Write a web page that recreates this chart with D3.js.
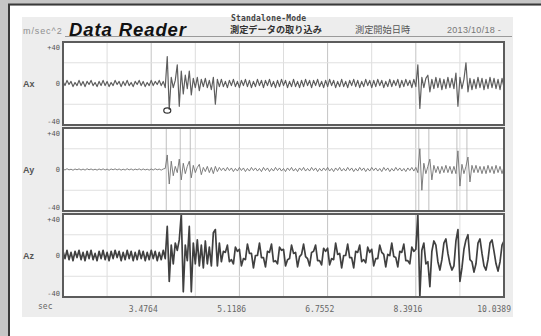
<!DOCTYPE html>
<html>
<head>
<meta charset="utf-8">
<script src="https://cdn.jsdelivr.net/npm/d3@7"></script>
<style>
  body { margin: 0; background: #c6c6c6; }
  svg { display: block; }
</style>
</head>
<body>
<svg id="chart" width="541" height="336"></svg>
<script>
// ---- data -------------------------------------------------------------
const channels = ["Ax", "Ay", "Az"];
const sampleStart = 1.838;     // s, time of first sample
const sampleStep = 0.03724;    // s, sample interval

const axValues = [
  2,-2,3,-1,2,-3,1,-2,3,-2,
  2,-3,2,-1,3,-2,1,-3,2,-2,
  3,-2,2,-3,1,-2,3,-1,2,-3,
  2,-2,3,-2,1,-3,2,-1,3,-2,
  2,-3,1,-2,3,-2,2,-1,3,-2,
  2,-4,26,-25,6,-4,3,18,-22,12,
  -10,8,-5,12,-11,5,-4,6,-7,4,
  -3,5,-4,3,-6,6,-20,4,-3,4,
  -3,2,-4,3,-2,4,-3,2,-4,3,
  -2,4,-3,3,-4,2,-3,4,-2,3,
  -4,3,-2,4,-3,2,-4,3,-3,4,
  -2,3,-4,2,-3,4,-3,2,-4,3,
  -3,4,-2,3,-4,3,-2,4,-3,2,
  -4,3,-3,4,-2,3,-4,2,-3,4,
  -3,2,-4,3,-2,4,-3,3,-4,2,
  -3,4,-2,3,-4,3,-3,4,-2,3,
  -4,2,-3,4,-3,3,-2,4,-4,3,
  -3,4,-2,3,-4,4,-3,18,-24,6,
  -4,5,8,-8,4,-5,6,-4,5,-6,
  4,-5,6,-4,5,-5,10,-22,6,-5,
  4,20,-8,5,-6,4,-5,6,-4,5,
  -6,4,-5,6,-4,5,-5,4,-6,5,
  -4
];

const ayValues = [
  0.5,-0.5,0.8,-0.4,0.3,-0.7,0.5,-0.3,0.6,-0.5,
  0.4,-0.6,0.7,-0.3,0.5,-0.5,0.3,-0.6,0.5,-0.4,
  0.6,-0.5,0.4,-0.7,0.5,-0.3,0.6,-0.4,0.5,-0.6,
  0.3,-0.5,0.7,-0.4,0.5,-0.6,0.4,-0.3,0.6,-0.5,
  0.5,-0.4,0.3,-0.6,0.5,-0.5,0.7,-0.3,0.4,-0.6,
  0.5,1,14,-14,8,-6,3,-3,10,-10,
  6,-4,3,8,-8,4,-3,2,5,-5,
  2,-2,3,-3,2,-4,3,-2,2,-1,
  1.5,-1.5,2,-1,1.5,-2,1,-1.5,2,-1,
  1.5,-2,1,-1.5,2,-1,1.5,-1.5,1,-2,
  2,-1,1.5,-2,1,-1.5,2,-1,1.5,-1.5,
  1,-2,1.5,-1,2,-1.5,1,-2,1.5,-1,
  2,-1.5,1,-1.5,2,-1,1.5,-2,1,-1.5,
  1.5,-1,2,-1.5,1,-2,1.5,-1,2,-1.5,
  1,-1.5,2,-1,1.5,-2,1,-1.5,2,-1,
  1.5,-2,1,-1.5,2,-1,1.5,-1.5,1,-2,
  2,-1,1.5,-2,1,-1.5,2,-1,1.5,-1.5,
  1,-2,1.5,-1,2,-1.5,2,-3,20,-20,
  6,-4,3,10,-10,4,-3,3,-4,3,
  -3,4,-3,3,-4,3,-4,18,-16,5,
  -4,3,12,-12,4,-3,4,-3,3,-4,
  3,-4,4,-3,3,-4,4,-3,3,-4,
  3
];

const azValues = [
  4,-3,5,-4,3,-5,4,-2,5,-4,
  3,-5,4,-3,5,-4,2,-5,4,-3,
  5,-4,3,-5,4,-3,5,-2,4,-5,
  3,-4,5,-3,4,-5,3,-4,5,-3,
  4,-5,3,-4,5,-3,4,-5,3,-4,
  5,-3,28,-25,10,-8,12,5,15,40,
  -35,10,-5,28,-35,12,-8,15,-10,10,
  -12,14,-8,8,-10,22,25,-10,12,-6,
  4,3,10,-6,-4,-8,8,4,6,-10,
  -3,-4,11,2,2,-12,0,0,12,-2,
  -2,-11,4,3,11,-6,-5,-8,8,5,
  6,-10,-4,-3,10,2,3,-11,-1,1,
  11,-1,-3,-10,3,4,10,-5,-5,-9,
  7,4,7,-9,-3,-4,12,1,2,-12,
  0,0,11,-2,-2,-12,4,3,10,-6,
  -4,-7,8,3,6,-10,-3,-3,10,3,
  1,-11,1,0,12,-1,-2,-11,4,3,
  11,-5,-5,-8,8,4,6,40,-40,5,
  12,-8,-6,-30,4,14,10,-6,-14,-4,
  12,16,2,-8,-14,-10,14,25,-25,-12,
  6,15,20,-4,-6,-16,-8,12,16,2,
  -10,-14,-4,12,15,4,-8,-15,-6,10,
  14
];

// trigger marks shown as thin vertical lines on the Ay trace (s)
const ayMarks = [3.756, 4.016, 4.202, 8.447, 8.634, 9.155, 9.341];
// detected peak on Ax
const peakTime = [3.775];
const peakValue = [-26];

const xTickValues = [3.4764, 5.1186, 6.7552, 8.3916, 10.0389];
const xTickLabels = ["3.4764", "5.1186", "6.7552", "8.3916", "10.0389"];
const yTickValues = [40, 0, -40];
const yTickLabels = ["+40", "0", "-40"];
const xDomain = [1.838, 10.030];
const yDomain = [-40, 40];
const gridStep = 0.8192;

// ---- layout -----------------------------------------------------------
const svg = d3.select("#chart");
const W = 541, H = 336;
const plotL = 63, plotR = 504;
const panelTop = 42, panelH = 83, panelGap = 3;

// outer window frame
svg.append("rect").attr("width", W).attr("height", H).attr("fill", "#c6c6c6");
svg.append("rect").attr("x", 10).attr("y", 5.5).attr("width", W - 10).attr("height", H - 5.5).attr("fill", "#ffffff");
svg.append("line").attr("x1", 9).attr("x2", 9).attr("y1", 4).attr("y2", H)
  .attr("stroke", "#3a3a3a").attr("stroke-width", 2);
svg.append("line").attr("x1", 8).attr("x2", W).attr("y1", 4.5).attr("y2", 4.5)
  .attr("stroke", "#3a3a3a").attr("stroke-width", 2);

// application panel
svg.append("rect").attr("x", 22).attr("y", 17).attr("width", 491).attr("height", 300).attr("fill", "#ededed");

// header
const hdr = svg.append("g").attr("font-family", "Liberation Sans, Arial, sans-serif");
hdr.append("text").attr("x", 23).attr("y", 34).attr("font-size", 9).attr("fill", "#8f8f8f")
  .attr("letter-spacing", 0.9).text("m/sec^2");
hdr.append("text").attr("x", 69).attr("y", 36).attr("font-size", 18.5).attr("font-weight", "bold")
  .attr("font-style", "italic").attr("letter-spacing", 0.9).attr("fill", "#111").text("Data Reader");
hdr.append("text").attr("x", 231).attr("y", 20.5).attr("font-size", 8).attr("font-weight", "bold")
  .attr("font-family", "DejaVu Sans Mono, monospace").attr("fill", "#444").attr("letter-spacing", 0.2)
  .text("Standalone-Mode");
hdr.append("text").attr("x", 230).attr("y", 33).attr("font-size", 9.2).attr("font-weight", "bold")
  .attr("font-family", "Noto Sans CJK JP, sans-serif").attr("fill", "#333").text("測定データの取り込み");
hdr.append("text").attr("x", 355).attr("y", 33).attr("font-size", 9.2)
  .attr("font-family", "Noto Sans CJK JP, sans-serif").attr("fill", "#555").text("測定開始日時");
hdr.append("text").attr("x", 447).attr("y", 33).attr("font-size", 9)
  .attr("fill", "#777").attr("letter-spacing", 0.3).text("2013/10/18 -");
svg.append("line").attr("x1", 65).attr("x2", 512).attr("y1", 36.5).attr("y2", 36.5)
  .attr("stroke", "#9a9a9a").attr("stroke-width", 1.2);

// ---- scales -----------------------------------------------------------
const x = d3.scaleLinear().domain(xDomain).range([plotL, plotR]);
const series = [axValues, ayValues, azValues];
const strokes = ["#5e5e5e", "#707070", "#404040"];
const widths = [1.2, 0.9, 1.7];
const gridTimes = d3.range(0, 11).map(k => xDomain[0] + k * gridStep);

channels.forEach((name, ci) => {
  const top = panelTop + ci * (panelH + panelGap);
  const y = d3.scaleLinear().domain(yDomain).range([top + panelH, top]);
  const g = svg.append("g");

  g.append("rect").attr("x", plotL).attr("y", top).attr("width", plotR - plotL).attr("height", panelH)
    .attr("fill", "#ffffff");

  // grid
  g.append("g").selectAll("line").data(gridTimes).join("line")
    .attr("x1", d => x(d)).attr("x2", d => x(d)).attr("y1", top).attr("y2", top + panelH)
    .attr("stroke", (d, i) => i % 2 === 0 ? "#c4c4c4" : "#dddddd").attr("stroke-width", 1);
  g.append("g").selectAll("line").data([20, -20]).join("line")
    .attr("x1", plotL).attr("x2", plotR).attr("y1", d => y(d)).attr("y2", d => y(d))
    .attr("stroke", "#e0e0e0").attr("stroke-width", 1);

  const clipId = "clip" + ci;
  svg.append("clipPath").attr("id", clipId).append("rect")
    .attr("x", plotL).attr("y", top).attr("width", plotR - plotL).attr("height", panelH);

  const plot = g.append("g").attr("clip-path", `url(#${clipId})`);

  if (name === "Ay") {
    plot.selectAll("line.mark").data(ayMarks).join("line").attr("class", "mark")
      .attr("x1", d => x(d)).attr("x2", d => x(d)).attr("y1", top).attr("y2", top + panelH)
      .attr("stroke", "#b0b0b0").attr("stroke-width", 0.8);
  }

  const line = d3.line()
    .x((d, i) => x(sampleStart + i * sampleStep))
    .y(d => y(d));
  plot.append("path").datum(series[ci]).attr("d", line)
    .attr("fill", "none").attr("stroke", strokes[ci]).attr("stroke-width", widths[ci])
    .attr("stroke-linejoin", "round");

  if (name === "Ax") {
    plot.selectAll("ellipse").data(peakTime).join("ellipse")
      .attr("cx", d => x(d)).attr("cy", (d, i) => y(peakValue[i]))
      .attr("rx", 3.5).attr("ry", 2.7)
      .attr("fill", "none").attr("stroke", "#333").attr("stroke-width", 1.2);
  }

  // frame
  g.append("rect").attr("x", plotL).attr("y", top).attr("width", plotR - plotL).attr("height", panelH)
    .attr("fill", "none").attr("stroke", "#5c5c5c").attr("stroke-width", 2);

  // y axis labels
  const yAxis = d3.axisLeft(y).tickValues(yTickValues)
    .tickFormat((d, i) => yTickLabels[i]).tickSize(0).tickPadding(3);
  const ya = svg.append("g").attr("transform", `translate(${plotL},0)`).call(yAxis);
  ya.select(".domain").remove();
  ya.selectAll("text").attr("font-family", "DejaVu Sans Mono, monospace").attr("font-size", 7)
    .attr("fill", "#555")
    .attr("y", d => d === 40 ? 5 : d === -40 ? -4 : 0);

  // channel name
  svg.append("text").attr("x", 23).attr("y", y(0)).attr("dy", "0.35em")
    .attr("font-family", "Liberation Sans, Arial, sans-serif").attr("font-size", 9)
    .attr("font-weight", "bold").attr("fill", "#555").text(name);
});

// x axis labels under the last panel
const bottom = panelTop + 3 * panelH + 2 * panelGap;
const xAxis = d3.axisBottom(x).tickValues(xTickValues)
  .tickFormat((d, i) => xTickLabels[i]).tickSize(0).tickPadding(9);
const xa = svg.append("g").attr("transform", `translate(0,${bottom})`).call(xAxis);
xa.select(".domain").remove();
xa.selectAll("text").attr("font-family", "DejaVu Sans Mono, monospace").attr("font-size", 8)
  .attr("fill", "#666").attr("text-anchor", "end").attr("x", 6);
svg.append("text").attr("x", 38).attr("y", bottom + 12)
  .attr("font-family", "DejaVu Sans Mono, monospace").attr("font-size", 8).attr("fill", "#666").text("sec");
</script>
</body>
</html>
